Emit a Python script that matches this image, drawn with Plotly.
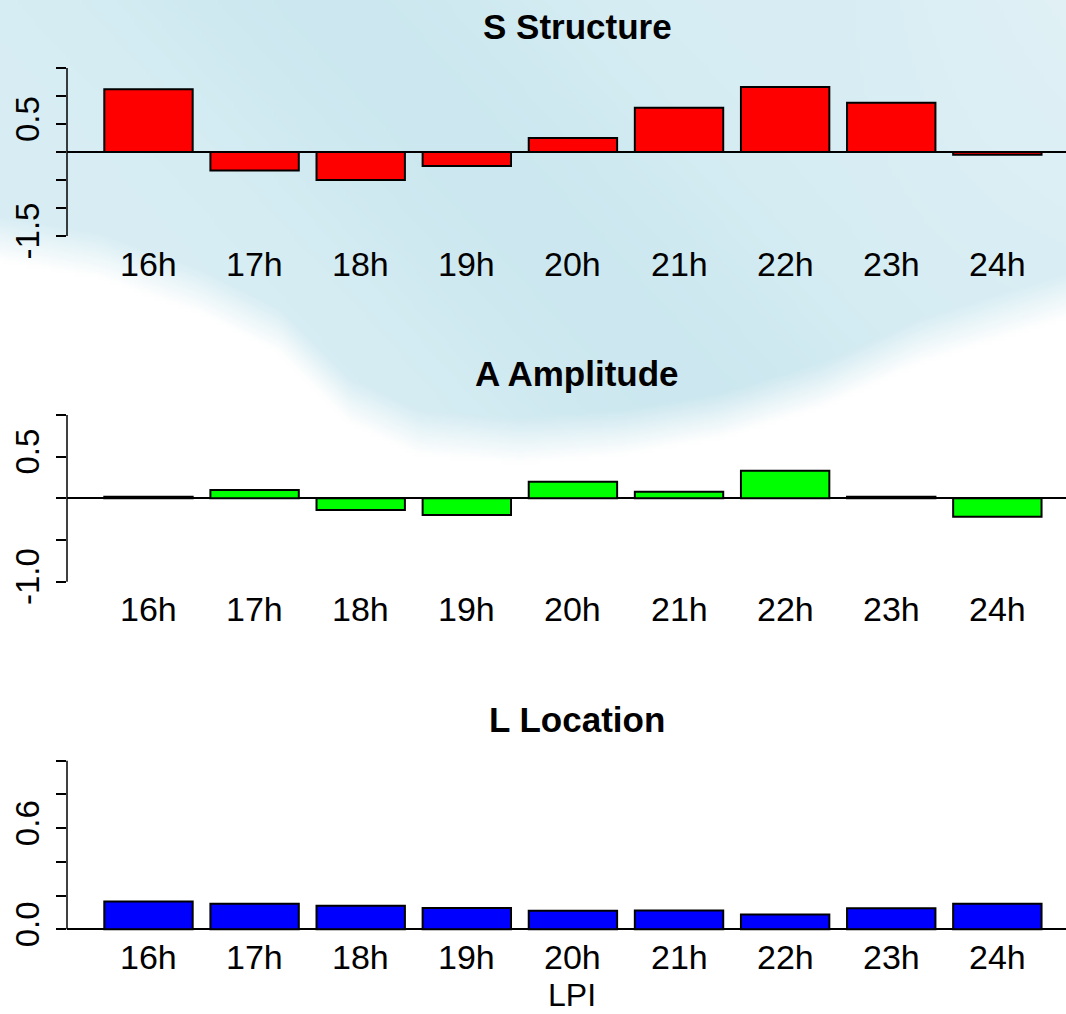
import base64, struct, zlib
import numpy as np
import plotly.graph_objects as go

# ---------------- data ----------------
hours = ["16h", "17h", "18h", "19h", "20h", "21h", "22h", "23h", "24h"]
s_structure = [1.12, -0.33, -0.50, -0.25, 0.25, 0.79, 1.16, 0.88, -0.05]
a_amplitude = [0.02, 0.10, -0.14, -0.20, 0.20, 0.08, 0.33, 0.02, -0.22]
l_location = [0.165, 0.151, 0.140, 0.126, 0.110, 0.112, 0.088, 0.125, 0.152]

titles = ["S Structure", "A Amplitude", "L Location"]
colors = ["#FF0000", "#00FF00", "#0000FF"]
s_ticks = [-1.5, -1.0, -0.5, 0.0, 0.5, 1.0, 1.5]
s_ticktext = ["-1.5", "", "", "", "0.5", "", ""]
a_ticks = [-1.0, -0.5, 0.0, 0.5, 1.0]
a_ticktext = ["-1.0", "", "", "0.5", ""]
l_ticks = [0.0, 0.2, 0.4, 0.6, 0.8, 1.0]
l_ticktext = ["0.0", "", "", "0.6", "", ""]

W, H = 1066, 1014
FONT = "Liberation Sans, Arial, sans-serif"

# ------------- background wash (soft watercolor-like) -------------
def make_bg():
    w, h = 267, 254
    X = (np.arange(w) + 0.5) * W / w
    Y = (np.arange(h) + 0.5) * H / h
    XX, YY = np.meshgrid(X, Y)
    bx = [0, 100, 200, 280, 350, 420, 520, 620, 720, 820, 920, 1066]
    by = [238, 255, 290, 330, 400, 432, 440, 432, 415, 385, 340, 295]
    yb = np.interp(XX, bx, by)
    a = np.clip((yb - YY) / 45.0 + 0.5, 0, 1)
    streak = np.exp(-(((XX - (330 + 0.9 * YY)) / 230.0) ** 2))
    base = np.stack([np.full_like(XX, 216.0), np.full_like(XX, 238.0), np.full_like(XX, 244.0)], -1)
    dark = np.array([203.0, 231.0, 239.0])
    col = base * (1 - streak[..., None] * 0.9) + dark * (streak[..., None] * 0.9)
    light = np.clip((XX - 850) / 216.0, 0, 1) * np.clip((320 - YY) / 320.0, 0, 1)
    col = col * (1 - 0.5 * light[..., None]) + np.array([234.0, 244.0, 247.0]) * (0.5 * light[..., None])
    img = 255.0 * (1 - a[..., None]) + col * a[..., None]
    img = np.clip(img, 0, 255).astype(np.uint8)
    raw = b"".join(b"\x00" + img[r].tobytes() for r in range(h))

    def chunk(t, d):
        c = struct.pack(">I", len(d)) + t + d
        return c + struct.pack(">I", zlib.crc32(t + d) & 0xFFFFFFFF)

    png = b"\x89PNG\r\n\x1a\n" + chunk(b"IHDR", struct.pack(">IIBBBBB", w, h, 8, 2, 0, 0, 0)) \
        + chunk(b"IDAT", zlib.compress(raw, 9)) + chunk(b"IEND", b"")
    return "data:image/png;base64," + base64.b64encode(png).decode()

# ---------------- layout geometry (pixels) ----------------
panels = [
    dict(vals=s_structure, ticks=s_ticks, tt=s_ticktext, rng=[-1.62, 1.62], top=61.3, bot=242.7),
    dict(vals=a_amplitude, ticks=a_ticks, tt=a_ticktext, rng=[-1.08, 1.08], top=408.3, bot=588.3),
    dict(vals=l_location, ticks=l_ticks, tt=l_ticktext, rng=[-0.04, 1.04], top=754.0, bot=936.0),
]

fig = go.Figure()
layout = dict(
    width=W, height=H, margin=dict(l=0, r=0, t=0, b=0, pad=0), autosize=False,
    paper_bgcolor="white", plot_bgcolor="rgba(0,0,0,0)",
    showlegend=False, bargap=0.167,
    font=dict(family=FONT, color="black"),
    images=[dict(source=make_bg(), xref="paper", yref="paper", x=0, y=1,
                 sizex=1, sizey=1, sizing="stretch", layer="below", xanchor="left", yanchor="top")],
)
shapes, annotations = [], []
x0 = 67 / W
for i, p in enumerate(panels):
    k = "" if i == 0 else str(i + 1)
    fig.add_trace(go.Bar(x=hours, y=p["vals"], marker=dict(color=colors[i], line=dict(color="black", width=2)),
                         xaxis="x" + k, yaxis="y" + k, hoverinfo="x+y"))
    layout["xaxis" + k] = dict(domain=[x0, 1], anchor="y" + k, type="category", range=[-0.768, 8.647],
                               automargin=False, showticklabels=False,
                               showline=False, showgrid=False, zeroline=False, ticks="")
    layout["yaxis" + k] = dict(domain=[1 - p["bot"] / H, 1 - p["top"] / H], anchor="x" + k, range=p["rng"],
                               automargin=False,
                               showgrid=False, showline=False, zeroline=True, zerolinecolor="black",
                               zerolinewidth=1.5, ticks="outside", ticklen=10, tickwidth=1.5,
                               tickcolor="black", tickvals=p["ticks"], ticktext=p["tt"], tickangle=-90,
                               tickfont=dict(size=33, family=FONT, color="black"), ticklabelstandoff=4)
    shapes.append(dict(type="line", xref="x" + k + " domain", yref="y" + k, x0=0, x1=0,
                       y0=p["ticks"][0], y1=p["ticks"][-1], line=dict(color="black", width=1.5)))
    annotations.append(dict(text="<b>" + titles[i] + "</b>", xref="paper", yref="paper",
                            x=577 / W, y=1 - (p["top"] - 35) / H, xanchor="center", yanchor="middle",
                            showarrow=False, font=dict(size=35, family=FONT, color="black")))
    # category names under the bars (R barplot names)
    for h in hours:
        annotations.append(dict(text=h, xref="x" + k, yref="y" + k + " domain", x=h, y=0,
                                xanchor="center", yanchor="middle", yshift=-21, showarrow=False,
                                font=dict(size=34, family=FONT, color="black")))
annotations.append(dict(text="LPI", xref="paper", yref="paper", x=572 / W, y=1 - 995 / H,
                        xanchor="center", yanchor="middle", showarrow=False,
                        font=dict(size=32, family=FONT, color="black")))
layout["shapes"] = shapes
layout["annotations"] = annotations
fig.update_layout(**layout)
fig.write_html(
    "out.html",
    config={"displayModeBar": False},
    post_script=("document.body.style.margin='0';document.body.style.overflow='hidden';"
                 "var d=document.getElementById('{plot_id}');d.style.position='fixed';"
                 "d.style.top='0';d.style.left='0';"),
)
